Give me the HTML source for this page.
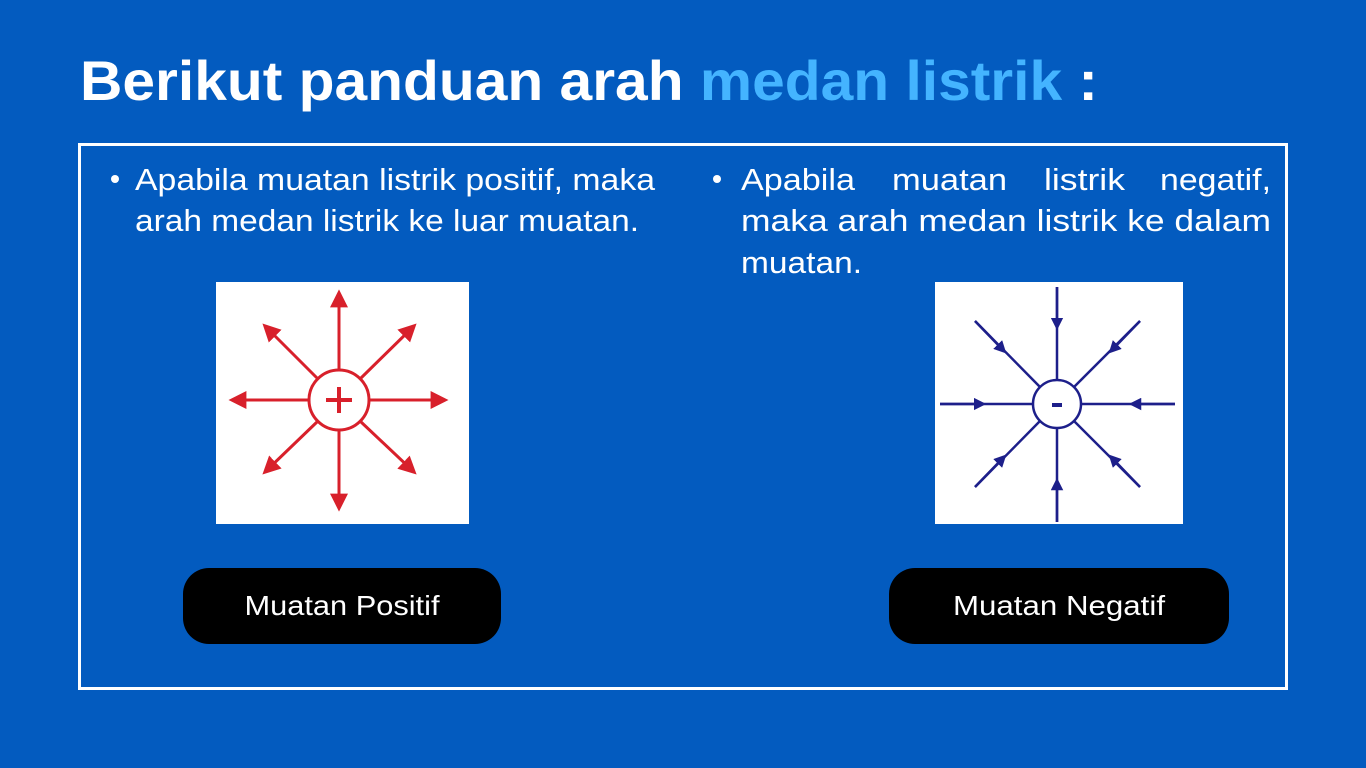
<!DOCTYPE html>
<html><head><meta charset="utf-8"><style>
html,body{margin:0;padding:0;background:#035BBF;}
svg{display:block}
</style></head><body>
<svg width="1366" height="768" viewBox="0 0 1366 768" xmlns="http://www.w3.org/2000/svg" font-family="Liberation Sans, sans-serif">
<defs>
<marker id="ar" viewBox="0 0 10 10" refX="8" refY="5" markerWidth="6" markerHeight="6" orient="auto"><path d="M0,0 L10,5 L0,10 z" fill="#d8202b"/></marker>
<marker id="ab" viewBox="0 0 10 10" refX="5" refY="5" markerWidth="5" markerHeight="5" orient="auto"><path d="M0,0 L10,5 L0,10 z" fill="#1d1f8a"/></marker>
</defs>
<rect width="1366" height="768" fill="#035BBF"/>
<text x="80" y="100" font-size="56" font-weight="bold" fill="#fff" textLength="1018" lengthAdjust="spacingAndGlyphs">Berikut panduan arah <tspan fill="#44B4FF">medan listrik</tspan> :</text>
<rect x="79.5" y="144.5" width="1207" height="544" fill="none" stroke="#fff" stroke-width="3"/>
<g fill="#fff" font-size="31">
<circle cx="115" cy="179" r="4"/>
<text x="135" y="190" textLength="520" lengthAdjust="spacingAndGlyphs">Apabila muatan listrik positif, maka</text>
<text x="135" y="231" textLength="504" lengthAdjust="spacingAndGlyphs">arah medan listrik ke luar muatan.</text>
<circle cx="717" cy="179" r="4"/>
<text x="741" y="190" textLength="114" lengthAdjust="spacingAndGlyphs">Apabila</text>
<text x="892" y="190" textLength="115" lengthAdjust="spacingAndGlyphs">muatan</text>
<text x="1044" y="190" textLength="81" lengthAdjust="spacingAndGlyphs">listrik</text>
<text x="1160" y="190" textLength="111" lengthAdjust="spacingAndGlyphs">negatif,</text>
<text x="741" y="231" textLength="530" lengthAdjust="spacingAndGlyphs">maka arah medan listrik ke dalam</text>
<text x="741" y="273" textLength="121" lengthAdjust="spacingAndGlyphs">muatan.</text>
</g>
<rect x="216" y="282" width="253" height="242" fill="#fff"/>
<g stroke="#d8202b" stroke-width="3" fill="none">
<circle cx="339" cy="400" r="30"/>
<line x1="339" y1="370" x2="339" y2="293" marker-end="url(#ar)"/>
<line x1="339" y1="430" x2="339" y2="508" marker-end="url(#ar)"/>
<line x1="309" y1="400" x2="232" y2="400" marker-end="url(#ar)"/>
<line x1="369" y1="400" x2="445" y2="400" marker-end="url(#ar)"/>
<line x1="318" y1="379" x2="265" y2="326" marker-end="url(#ar)"/>
<line x1="360" y1="379" x2="414" y2="326" marker-end="url(#ar)"/>
<line x1="318" y1="421" x2="265" y2="472" marker-end="url(#ar)"/>
<line x1="360" y1="421" x2="414" y2="472" marker-end="url(#ar)"/>
<line x1="326" y1="400" x2="352" y2="400" stroke-width="4"/>
<line x1="339" y1="387" x2="339" y2="413" stroke-width="4"/>
</g>
<rect x="935" y="282" width="248" height="242" fill="#fff"/>
<g stroke="#1d1f8a" stroke-width="2.5" fill="none">
<circle cx="1057" cy="404" r="24"/>
<line x1="1057" y1="287" x2="1057" y2="380"/>
<line x1="1057" y1="428" x2="1057" y2="522"/>
<line x1="940" y1="404" x2="1033" y2="404"/>
<line x1="1081" y1="404" x2="1175" y2="404"/>
<line x1="975" y1="321" x2="1040" y2="387"/>
<line x1="1140" y1="321" x2="1074" y2="387"/>
<line x1="975" y1="487" x2="1040" y2="421"/>
<line x1="1140" y1="487" x2="1074" y2="421"/>
<line x1="1057" y1="287" x2="1057" y2="324" marker-end="url(#ab)"/>
<line x1="1057" y1="522" x2="1057" y2="484" marker-end="url(#ab)"/>
<line x1="940" y1="404" x2="980" y2="404" marker-end="url(#ab)"/>
<line x1="1175" y1="404" x2="1135" y2="404" marker-end="url(#ab)"/>
<line x1="975" y1="321" x2="1002" y2="349" marker-end="url(#ab)"/>
<line x1="1140" y1="321" x2="1113" y2="349" marker-end="url(#ab)"/>
<line x1="975" y1="487" x2="1002" y2="459" marker-end="url(#ab)"/>
<line x1="1140" y1="487" x2="1113" y2="459" marker-end="url(#ab)"/>
</g>
<rect x="1052" y="403" width="10" height="4" fill="#1d1f8a"/>
<rect x="183" y="568" width="318" height="76" rx="26" fill="#000"/>
<text x="342" y="615" font-size="28" fill="#fff" text-anchor="middle" textLength="195" lengthAdjust="spacingAndGlyphs">Muatan Positif</text>
<rect x="889" y="568" width="340" height="76" rx="26" fill="#000"/>
<text x="1059" y="615" font-size="28" fill="#fff" text-anchor="middle" textLength="212" lengthAdjust="spacingAndGlyphs">Muatan Negatif</text>
</svg>
</body></html>
